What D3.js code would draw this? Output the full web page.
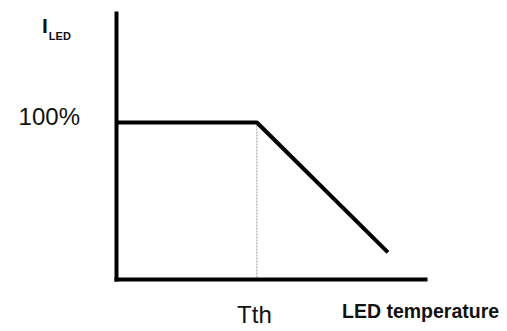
<!DOCTYPE html>
<html>
<head>
<meta charset="utf-8" />
<title>LED derating</title>
<style>
  body { margin: 0; background: #fff; }
  svg text { font-family: "Liberation Sans", Arial, sans-serif; fill: #111; }
</style>
</head>
<body>
<div id="chart"></div>
<script src="https://cdn.jsdelivr.net/npm/d3@7"></script>
<script>
// curve points: temperature (0..100 scale), current in %
var temps = [0, 45.6, 88];
var currents = [100, 100, 17];
var yTicks = [100];
var yTickLabels = ["100%"];
var xTicks = [45.6];
var xTickLabels = ["Tth"];

var width = 507, height = 331;

var x = d3.scaleLinear().domain([0, 100]).range([116, 425]);
var y = d3.scaleLinear().domain([0, 170]).range([279, 13]);

var svg = d3.select("#chart").append("svg")
    .attr("width", width)
    .attr("height", height);

// guide from the knee down to the x axis
svg.append("line")
    .attr("x1", x(xTicks[0])).attr("x2", x(xTicks[0]))
    .attr("y1", y(100)).attr("y2", y(0))
    .attr("stroke", "#9a9a9a")
    .attr("stroke-width", 1)
    .attr("stroke-dasharray", "2,1");

var xAxis = d3.axisBottom(x)
    .tickValues(xTicks)
    .tickFormat(function (d, i) { return xTickLabels[i]; })
    .tickSize(0)
    .tickSizeOuter(0)
    .tickPadding(27);

var yAxis = d3.axisLeft(y)
    .tickValues(yTicks)
    .tickFormat(function (d, i) { return yTickLabels[i]; })
    .tickSize(0)
    .tickSizeOuter(0)
    .tickPadding(36);

var gx = svg.append("g").attr("transform", "translate(0," + y(0) + ")").call(xAxis);
var gy = svg.append("g").attr("transform", "translate(" + x(0) + ",0)").call(yAxis);

gx.select(".domain").attr("stroke", "#000").attr("stroke-width", 4).attr("stroke-linecap", "square");
gy.select(".domain").attr("stroke", "#000").attr("stroke-width", 4).attr("stroke-linecap", "square");

gx.selectAll(".tick text")
    .style("font-size", "24px")
    .attr("dx", "-3")
    .attr("fill", "#111");
gy.selectAll(".tick text")
    .style("font-size", "24px")
    .attr("dy", "0.09em")
    .attr("fill", "#111");

var data = temps.map(function (t, i) { return { t: t, c: currents[i] }; });

var line = d3.line()
    .x(function (d) { return x(d.t); })
    .y(function (d) { return y(d.c); });

svg.append("path")
    .datum(data)
    .attr("d", line)
    .attr("fill", "none")
    .attr("stroke", "#000")
    .attr("stroke-width", 4)
    .attr("stroke-linejoin", "round");

// y axis title: I with LED subscript
var yt = svg.append("text")
    .attr("x", 42)
    .attr("y", 33)
    .style("font-weight", "bold")
    .style("font-size", "21px");
yt.append("tspan").text("I");
yt.append("tspan")
    .attr("dx", 1)
    .attr("dy", 7)
    .style("font-size", "11px")
    .text("LED");

// x axis title
svg.append("text")
    .attr("x", 342)
    .attr("y", 318)
    .style("font-weight", "bold")
    .style("font-size", "19.5px")
    .text("LED temperature");
</script>
</body>
</html>
